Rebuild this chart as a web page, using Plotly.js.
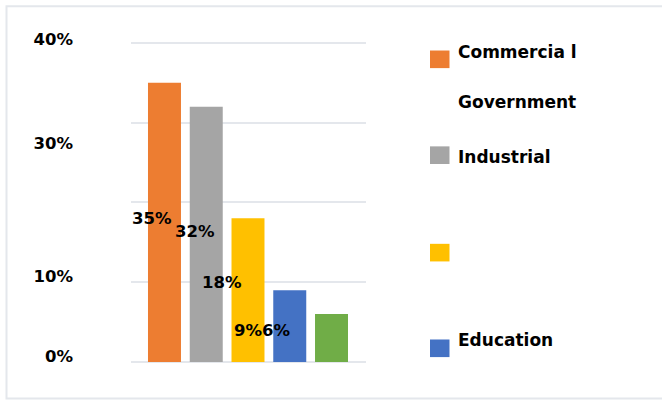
<!DOCTYPE html>
<html>
<head>
<meta charset="utf-8">
<script src="https://cdn.plot.ly/plotly-3.0.1.min.js"></script>
<style>
  html, body { margin: 0; padding: 0; background: #ffffff; }
  #chart { width: 662px; height: 400px; }
</style>
</head>
<body>
<div id="chart"></div>
<script>
// ---- data ----
const categories = ['Commercial', 'Industrial', 'Government', 'Education', 'Other'];
const values = [35, 32, 18, 9, 6];
const dataLabels = ['35%', '32%', '18%', '9%', '6%'];
const barColors = ['#ED7D31', '#A5A5A5', '#FFC000', '#4472C4', '#70AD47'];
const gridValues = [0, 10, 20, 30, 40];
const tickLabels = ['0%', '10%', '30%', '40%'];
const legendNames = ['Commercia l', 'Government', 'Industrial', '', 'Education'];
const legendColors = ['#ED7D31', null, '#A5A5A5', '#FFC000', '#4472C4'];

// ---- layout config (pixels) ----
const W = 662, H = 400;
const YMAX = 40.6;
const M = { l: 131, r: 296, t: 38.2, b: 38 };
const PW = W - M.l - M.r, PH = H - M.t - M.b;
const px2x = px => (px - M.l) / PW;
const py2y = py => (H - M.b - py) / PH;

const tickLabelPos = [0.75, 10.8, 27.4, 40.4];      // where labels sit on the value scale
const labelXShift = [-12.5, -11, -26, -42, -55.5];
const labelYShift = [3.5, 3, 7.6, -4, 8];
const legendMarkerY = [59.5, null, 155.3, 252.7, 348.3];
const legendTextY = [51.7, 101.7, 156.7, null, 340];

const FONT = { family: 'DejaVu Sans, Verdana, sans-serif', size: 16.5, color: '#000000', weight: 700 };
const LEGFONT = { family: 'DejaVu Sans, Verdana, sans-serif', size: 17, color: '#000000', weight: 700 };
const GRID = '#E4E7EC';

const trace = {
  type: 'bar',
  x: categories,
  y: values,
  width: 0.79,
  marker: { color: barColors, line: { width: 0 } },
  hoverinfo: 'skip',
  showlegend: false
};

const annotations = values.map((v, i) => ({
  x: categories[i], y: v / 2, xref: 'x', yref: 'y',
  text: dataLabels[i], showarrow: false,
  xshift: labelXShift[i], yshift: labelYShift[i],
  font: FONT, xanchor: 'center', yanchor: 'middle'
}));

const shapes = [{
  type: 'rect', xref: 'paper', yref: 'paper',
  x0: px2x(6.5), x1: px2x(670), y0: py2y(398.5), y1: py2y(6.5),
  line: { color: GRID, width: 2 }, fillcolor: 'rgba(0,0,0,0)', layer: 'below'
}];

legendNames.forEach((name, i) => {
  if (legendColors[i] && legendMarkerY[i] !== null) {
    shapes.push({
      type: 'rect', xref: 'paper', yref: 'paper',
      x0: px2x(430), x1: px2x(449.5),
      y0: py2y(legendMarkerY[i] + 8.8), y1: py2y(legendMarkerY[i] - 8.8),
      line: { width: 0 }, fillcolor: legendColors[i]
    });
  }
  if (name && legendTextY[i] !== null) {
    annotations.push({
      xref: 'paper', yref: 'paper', x: px2x(456), y: py2y(legendTextY[i]),
      text: name, showarrow: false, xanchor: 'left', yanchor: 'middle', font: LEGFONT
    });
  }
});

const layout = {
  width: W, height: H,
  margin: M,
  paper_bgcolor: '#ffffff', plot_bgcolor: '#ffffff',
  showlegend: false,
  xaxis: {
    type: 'category', range: [-0.802, 4.826],
    showticklabels: false, showgrid: false, zeroline: false, showline: false, ticks: '',
    fixedrange: true
  },
  yaxis: {
    range: [0, YMAX], tickvals: gridValues, showticklabels: false,
    showgrid: true, gridcolor: GRID, gridwidth: 2,
    zeroline: true, zerolinecolor: GRID, zerolinewidth: 2,
    showline: false, ticks: '', fixedrange: true
  },
  yaxis2: {
    overlaying: 'y', side: 'left', range: [0, YMAX],
    tickvals: tickLabelPos, ticktext: tickLabels,
    showgrid: false, zeroline: false, showline: false, ticks: '',
    ticklabelstandoff: 57, tickfont: FONT, fixedrange: true
  },
  annotations: annotations,
  shapes: shapes,
  font: FONT
};

const dummy = { type: 'scatter', x: [categories[0]], y: [0], yaxis: 'y2', mode: 'markers',
  marker: { opacity: 0 }, hoverinfo: 'skip', showlegend: false };

Plotly.newPlot('chart', [trace, dummy], layout, { displayModeBar: false, staticPlot: true });
</script>
</body>
</html>
